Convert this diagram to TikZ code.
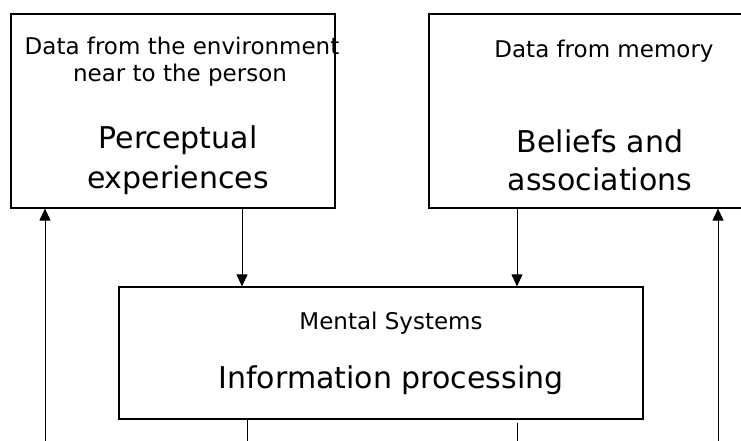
\documentclass[tikz,border=0pt]{standalone}
\usepackage{fontspec}
\setmainfont{DejaVu Sans}
\usetikzlibrary{arrows.meta}
\begin{document}
\begin{tikzpicture}[x=1pt,y=-1pt,line width=1pt,
        box/.style={draw,line width=1.2pt,inner sep=0pt},
        small/.style={anchor=base,font=\fontsize{23}{28}\selectfont},
        big/.style={anchor=base,font=\fontsize{30}{36}\selectfont},
        >={Triangle[length=12pt,width=11pt]}]
            \clip (0,0) rectangle (741,440);
            %Perceptual experiences
            \node[box,minimum width=324pt,minimum height=194pt] (percept) at (173,111) {};
            \node[small] (envtext) at (182,54) {Data from the environment};
            \node[small] (neartext) at (180,81) {near to the person};
            \node[big] (perctext) at (178,148) {Perceptual};
            \node[big] (exptext) at (178,188) {experiences};
            %Beliefs and associations
            \node[box,minimum width=346pt,minimum height=194pt] (assoc) at (602,111) {};
            \node[small] (memtext) at (604,57) {Data from memory};
            \node[big] (beltext) at (600,152) {Beliefs and};
            \node[big] (assoctext) at (600,190) {associations};
            %Information processing
            \node[box,minimum width=524pt,minimum height=132pt] (mental) at (381,353) {};
            \node[small] (menttext) at (391,329) {Mental Systems};
            \node[big] (infotext) at (391,388) {Information processing};
            %columns
            \coordinate (inL) at (242,0);
            \coordinate (inR) at (517,0);
            \coordinate (outL) at (247,460);
            \coordinate (outR) at (517,460);
            \coordinate (loopL) at (45,460);
            \coordinate (loopR) at (718,460);
            %data in
            \draw[->] (inL |- percept.south) -- (inL |- mental.north);
            \draw[->] (inR |- assoc.south) -- (inR |- mental.north);
            %out and back
            \draw (outL |- mental.south) -- (outL);
            \draw ([yshift=-3pt]outR |- mental.south) -- (outR);
            \draw[->] (loopL) -- (loopL |- percept.south);
            \draw[->] (loopR) -- (loopR |- assoc.south);
\end{tikzpicture}
\end{document}
